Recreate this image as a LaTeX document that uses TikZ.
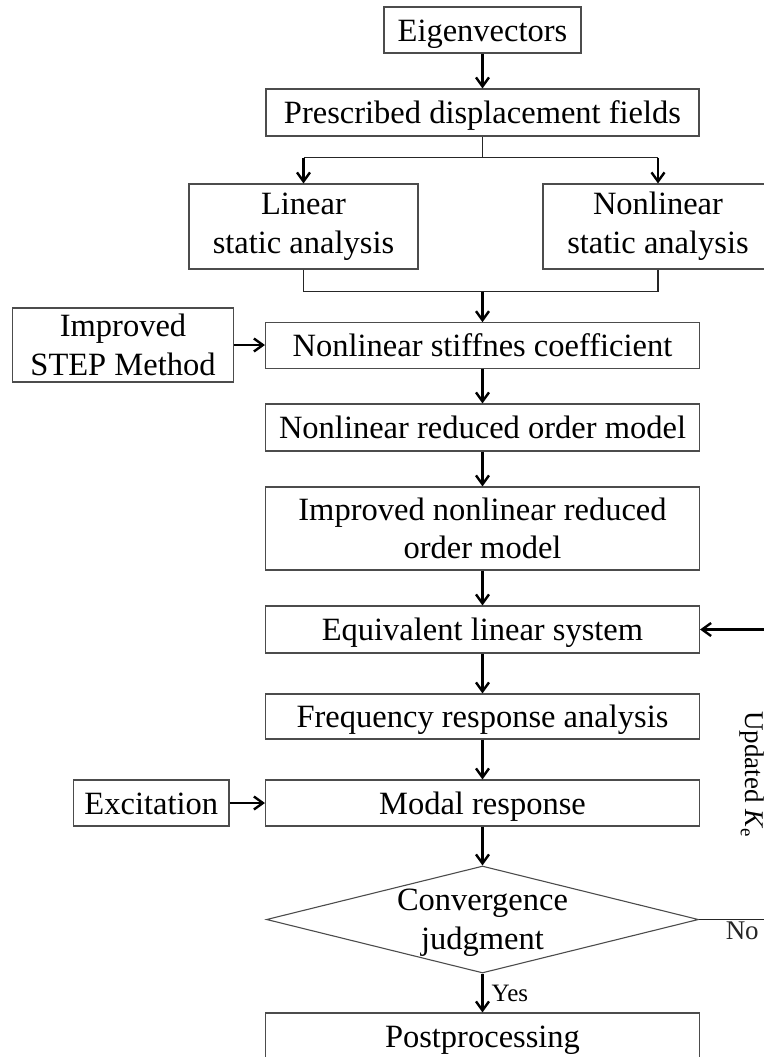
\documentclass[tikz,border=0pt]{standalone}
\usepackage{fontspec}
\setmainfont{Liberation Serif}
\usepackage{tikz}
\usetikzlibrary{shapes.geometric,arrows.meta,calc}
\tikzstyle{box}=[draw=black!70, line width=0.55pt, inner sep=0pt, align=center, font=\fontsize{16.25}{19.3}\selectfont]
\tikzstyle{onebox}=[box, text height=11pt, text depth=0pt]
\tikzstyle{flow}=[-{Straight Barb[length=4.5pt,width=6.5pt]}, line width=1.2pt]
\tikzstyle{link}=[-, line width=0.7pt, black!85]
\tikzstyle{tag}=[inner sep=1pt, font=\fontsize{13.5}{16}\selectfont]

\begin{document}
\begin{tikzpicture}[x=0.5pt, y=-0.5pt]
\useasboundingbox (0,0) rectangle (764,1057);
\clip (0,0) rectangle (764,1057);

% boxes
\node[onebox, minimum width=98.5pt, minimum height=23pt] (eig) at (482.5,30) {Eigenvectors};
\node[onebox, minimum width=216.5pt, minimum height=23.5pt] (pres) at (482.5,112.5) {Prescribed displacement fields};
\node[box, minimum width=114.5pt, minimum height=42.5pt] (lin) at (303.5,226.5) {Linear\\static analysis};
\node[box, minimum width=115pt, minimum height=42.5pt] (nlin) at (658,226.5) {Nonlinear\\static analysis};
\node[box, minimum width=110.75pt, minimum height=37pt] (stepm) at (123,345) {Improved\\STEP Method};
\node[onebox, minimum width=217pt, minimum height=22.75pt] (stiff) at (482.5,345.5) {Nonlinear stiffnes coefficient};
\node[onebox, minimum width=217pt, minimum height=23.5pt] (nrom) at (482.5,427.5) {Nonlinear reduced order model};
\node[box, minimum width=217pt, minimum height=41.5pt] (inrom) at (482.5,528.5) {Improved nonlinear reduced\\order model};
\node[onebox, minimum width=217pt, minimum height=23.5pt] (equiv) at (482.5,629.5) {Equivalent linear system};
\node[onebox, minimum width=217pt, minimum height=22.5pt] (freq) at (482.5,716.5) {Frequency response analysis};
\node[onebox, minimum width=217pt, minimum height=23pt] (modal) at (482.5,803) {Modal response};
\node[onebox, minimum width=77.75pt, minimum height=23pt] (excit) at (151.25,803) {Excitation};
\node[draw=black!70, line width=0.55pt, diamond, inner sep=0pt, minimum width=216pt, minimum height=53.5pt] (judge) at (482.5,919.5) {};
\node[align=center, inner sep=0pt, font=\fontsize{16.25}{19.3}\selectfont] (judgetxt) at ([yshift=-1.5pt]judge.center) {Convergence\\judgment};
\node[onebox, minimum width=217pt, minimum height=23pt] (post) at (482.5,1036) {Postprocessing};

% split
\draw[flow] (eig) -- (pres);
\draw[link] (pres.south) -- ++(0,21) coordinate (split);
\draw[link] (split -| lin.north) -- (split -| nlin.north);
\draw[flow] (split -| lin.north) -- (lin.north);
\draw[flow] (split -| nlin.north) -- (nlin.north);

% merge
\draw[link] (lin.south) -- ++(0,22) coordinate (mergel);
\draw[link] (nlin.south) -- (nlin.south |- mergel) -- (mergel);
\draw[flow] (mergel -| stiff.north) -- (stiff.north);

% main column
\draw[flow] (stepm.east) -- (stepm.east -| stiff.west);
\draw[flow] (stiff) -- (nrom);
\draw[flow] (nrom) -- (inrom);
\draw[flow] (inrom) -- (equiv);
\draw[flow] (equiv) -- (freq);
\draw[flow] (freq) -- (modal);
\draw[flow] (excit) -- (modal);
\draw[flow] (modal) -- (judge);
\draw[flow] (judge) -- node[right, tag, font=\fontsize{12.5}{15}\selectfont, inner sep=4pt] (yes) {Yes} (post);

% loop
\draw[link] (judge.east) -- node[pos=0.6, below, tag] (no) {No} ++(72,0) coordinate (fb);
\draw[flow] (fb) |- node[pos=0.25, anchor=north, rotate=-90, tag, inner sep=3pt] (upd) {Updated \textit{K}\textsubscript{e}} (equiv.east);

\end{tikzpicture}
\end{document}
